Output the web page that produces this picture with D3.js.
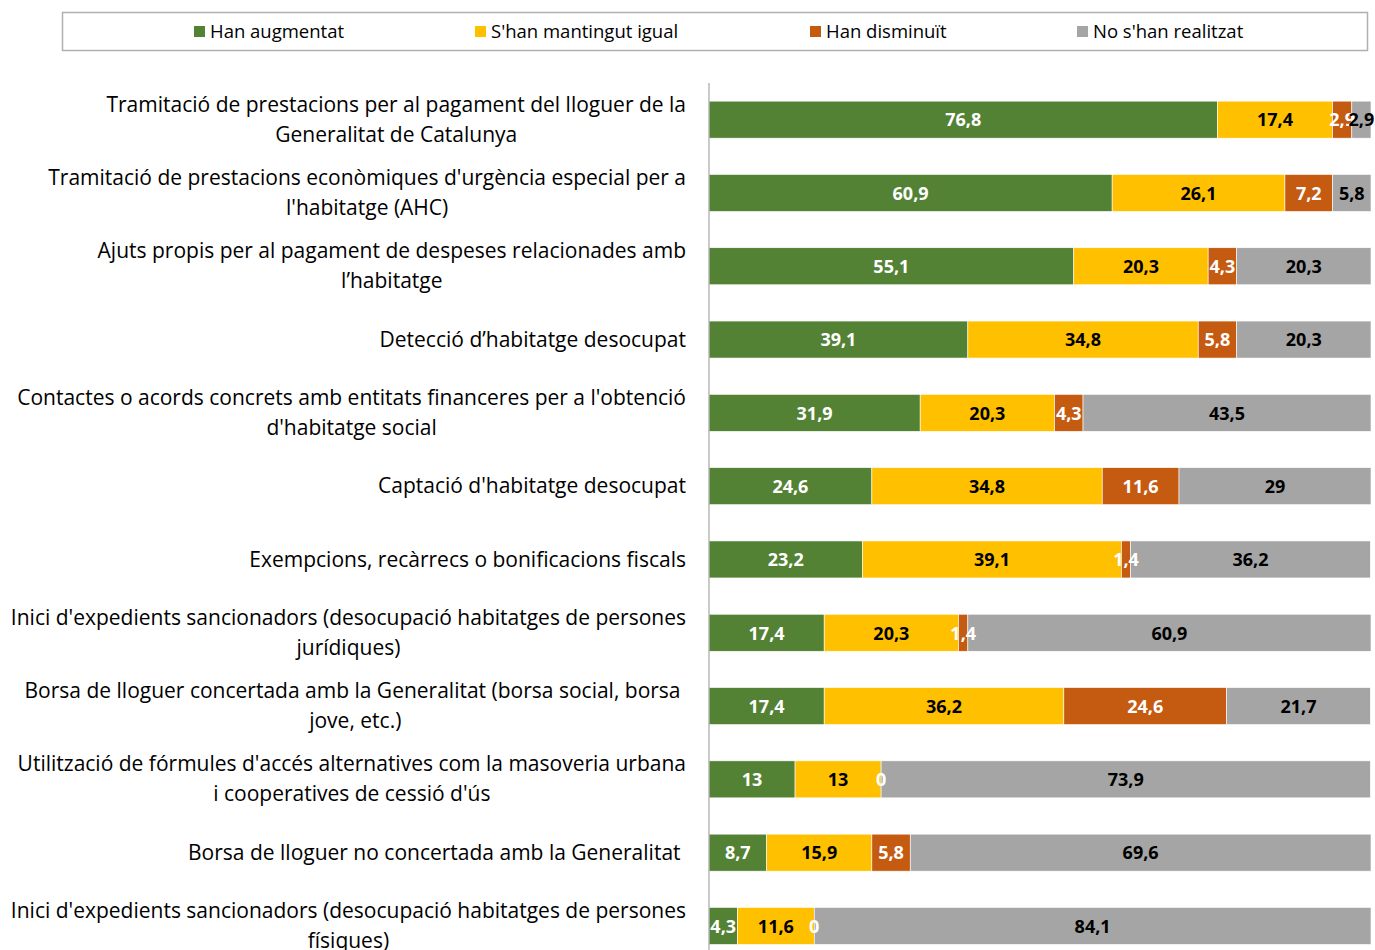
<!DOCTYPE html>
<html><head><meta charset="utf-8">
<script src="https://cdn.jsdelivr.net/npm/d3@7"></script>
<style>body{margin:0;background:#fff;}svg{display:block;font-family:"Open Sans",Lato,sans-serif;}</style>
</head><body>
<svg id="c" width="1375" height="950"></svg>
<script>
const categories = [
  ["Tramitació de prestacions per al pagament del lloguer de la","Generalitat de Catalunya"],
  ["Tramitació de prestacions econòmiques d'urgència especial per a","l'habitatge (AHC)"],
  ["Ajuts propis per al pagament de despeses relacionades amb","l’habitatge"],
  ["Detecció d’habitatge desocupat"],
  ["Contactes o acords concrets amb entitats financeres per a l'obtenció","d'habitatge social"],
  ["Captació d'habitatge desocupat"],
  ["Exempcions, recàrrecs o bonificacions fiscals"],
  ["Inici d'expedients sancionadors (desocupació habitatges de persones","jurídiques)"],
  ["Borsa de lloguer concertada amb la Generalitat (borsa social, borsa ","jove, etc.)"],
  ["Utilització de fórmules d'accés alternatives com la masoveria urbana","i cooperatives de cessió d'ús"],
  ["Borsa de lloguer no concertada amb la Generalitat "],
  ["Inici d'expedients sancionadors (desocupació habitatges de persones","físiques)"]
];
const seriesNames = ["Han augmentat","S'han mantingut igual","Han disminuït","No s'han realitzat"];
const augmentat = [76.8,60.9,55.1,39.1,31.9,24.6,23.2,17.4,17.4,13,8.7,4.3];
const igual     = [17.4,26.1,20.3,34.8,20.3,34.8,39.1,20.3,36.2,13,15.9,11.6];
const disminuit = [2.9,7.2,4.3,5.8,4.3,11.6,1.4,1.4,24.6,0,5.8,0];
const noRealitzat=[2.9,5.8,20.3,20.3,43.5,29,36.2,60.9,21.7,73.9,69.6,84.1];
const colors = ["#548235","#FFC000","#C55A11","#A5A5A5"];
const labelColors = ["#fff","#000","#fff","#000"];

const svg = d3.select("#c");
const keys = ["a","b","c","d"];
const rows = categories.map((c,i)=>({i, a:augmentat[i], b:igual[i], c:disminuit[i], d:noRealitzat[i]}));
const stack = d3.stack().keys(keys)(rows);

const x = d3.scaleLinear().domain([0,100]).range([709,1371]);
const y = d3.scaleBand().domain(d3.range(categories.length)).range([83,962.6]).paddingInner(0.495).paddingOuter(0.2475);

// legend
svg.append("rect").attr("x",62.5).attr("y",12.5).attr("width",1305).attr("height",38)
  .attr("fill","#fff").attr("stroke","#b0b0b0").attr("stroke-width",1.5);
const legX = [194,475,810,1077];
seriesNames.forEach((n,k)=>{
  svg.append("rect").attr("x",legX[k]).attr("y",26).attr("width",11).attr("height",11).attr("fill",colors[k]);
  svg.append("text").attr("x",legX[k]+16).attr("y",33).attr("dominant-baseline","middle")
    .attr("font-size",18.5).attr("fill","#000").text(n);
});

// bars
stack.forEach((s,k)=>{
  svg.append("g").selectAll("rect").data(s).join("rect")
    .attr("x",d=>x(d[0])).attr("width",d=>x(d[1])-x(d[0]))
    .attr("y",(d,i)=>y(i)).attr("height",y.bandwidth())
    .attr("fill",colors[k]).attr("stroke","#fff").attr("stroke-width",0.6);
});
// labels
const fmt = v => String(v).replace(".",",");
stack.forEach((s,k)=>{
  svg.append("g").selectAll("text").data(s).join("text")
    .attr("x",d=>(x(d[0])+x(d[1]))/2).attr("y",(d,i)=>y(i)+y.bandwidth()/2+2)
    .attr("text-anchor","middle").attr("dominant-baseline","middle")
    .attr("font-size",18).attr("font-weight","bold").attr("fill",labelColors[k])
    .text(d=>fmt(+(d[1]-d[0]).toFixed(1)));
});

// axis line
svg.append("line").attr("x1",709).attr("x2",709).attr("y1",83).attr("y2",950)
  .attr("stroke","#a6a6a6").attr("stroke-width",1.2);

// category labels (centered block, right-aligned; trailing spaces count in width)
categories.forEach((lines,i)=>{
  const cy = y(i)+y.bandwidth()/2+1.5;
  const t = svg.append("text").attr("font-size",21).attr("fill","#000").attr("xml:space","preserve")
    .style("white-space","pre");
  lines.forEach((l,j)=>{
    t.append("tspan").attr("x",0).attr("y",cy + (j-(lines.length-1)/2)*30)
     .attr("dominant-baseline","middle").attr("text-anchor","middle").text(l);
  });
  const w = d3.max(t.selectAll("tspan").nodes(), n => n.getComputedTextLength());
  t.selectAll("tspan").attr("x", 686 - w/2);
});
</script>
</body></html>
